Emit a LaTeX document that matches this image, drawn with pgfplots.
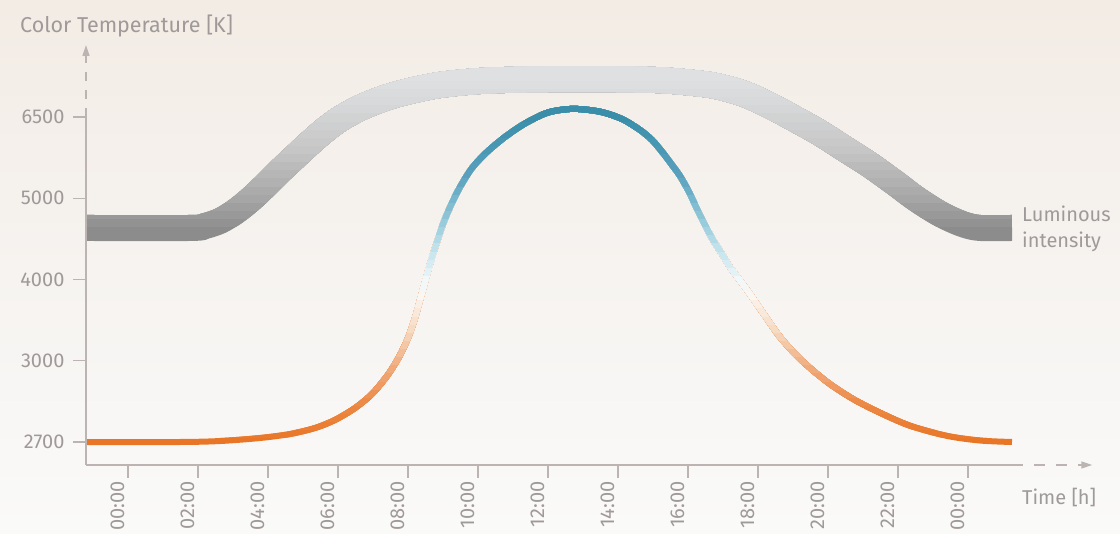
\documentclass[border=0pt]{standalone}
\usepackage{fontspec}
\setmainfont{Fira Sans}
\usepackage{pgfplots}
\usepackage{pgfplotstable}
\pgfplotsset{compat=1.18}
\usetikzlibrary{arrows.meta}

\definecolor{txtgray}{RGB}{160,153,153}
\definecolor{axgray}{RGB}{188,180,179}
\definecolor{bgtop}{RGB}{243,236,229}
\definecolor{bgmid}{RGB}{246,243,240}
\definecolor{bgbot}{RGB}{250,250,249}
\definecolor{lumdark}{RGB}{140,140,140}
\definecolor{ctorange}{RGB}{232,118,38}

% y is a level: 0=2700K, 1=3000K, 2=4000K, 3=5000K, 4=6500K
% colormap position (cm) = 10*level, so "color of colormap" value = 100*level
\pgfplotsset{
  colormap={ctemp}{
    rgb255(0cm)=(232,118,38) rgb255(5cm)=(236,138,72) rgb255(10cm)=(241,178,135)
    rgb255(14cm)=(247,220,196) rgb255(18cm)=(250,246,242) rgb255(20cm)=(240,248,250)
    rgb255(24cm)=(190,225,235) rgb255(28cm)=(140,196,214) rgb255(33cm)=(88,160,189)
    rgb255(40cm)=(58,142,170) rgb255(100cm)=(58,142,170)},
  colormap={lumgray}{
    rgb255(0cm)=(140,140,140) rgb255(26cm)=(140,140,140) rgb255(30cm)=(166,166,166)
    rgb255(36cm)=(198,198,198) rgb255(42cm)=(215,217,218) rgb255(45cm)=(222,224,225)
    rgb255(100cm)=(222,224,225)},
}

% luminous intensity band (hour, level)
\pgfplotstableread{
h v
-1.2 2.634
1.771 2.634
2.2 2.658
2.629 2.72
3.057 2.831
3.486 2.978
3.914 3.151
4.343 3.335
4.771 3.508
5.2 3.68
5.629 3.84
6.057 3.975
6.629 4.111
7.343 4.234
8.057 4.32
8.914 4.394
10.057 4.443
11.486 4.462
13.486 4.466
15.2 4.453
16.343 4.41
16.914 4.37
17.629 4.28
18.343 4.14
19.057 3.975
19.771 3.803
20.486 3.606
21.2 3.409
21.914 3.188
22.486 3.003
23.057 2.843
23.486 2.745
23.914 2.671
24.343 2.634
25.257 2.634
}\lumdata

% colour temperature (hour, level)
\pgfplotstableread{
h v
-1.2 0
1.486 0
2.629 0.012
3.771 0.049
4.629 0.098
5.343 0.172
5.914 0.271
6.486 0.418
6.971 0.591
7.4 0.812
7.743 1.046
8.0 1.28
8.2 1.526
8.343 1.748
8.486 1.969
8.629 2.191
8.8 2.425
9.0 2.683
9.229 2.917
9.486 3.138
9.829 3.372
10.257 3.569
10.771 3.754
11.343 3.92
12.0 4.055
12.714 4.10
13.486 4.065
14.114 3.975
14.629 3.84
14.971 3.717
15.286 3.557
15.543 3.409
15.771 3.274
16.029 3.077
16.257 2.868
16.486 2.671
16.714 2.486
16.971 2.314
17.2 2.154
17.686 1.871
18.143 1.588
18.629 1.292
19.2 1.022
19.971 0.74
20.714 0.53
21.486 0.36
22.343 0.20
23.4 0.075
24.343 0.018
25.257 0
}\ctdata

\begin{document}
\begin{tikzpicture}[x=1pt,y=1pt]
\useasboundingbox (0,0) rectangle (1120,534);
\shade[top color=bgtop, bottom color=bgbot, middle color=bgmid] (0,0) rectangle (1120,534);
\begin{axis}[
  at={(86pt,69pt)}, anchor=south west,
  scale only axis, width=926pt, height=420pt,
  xmin=-1.2, xmax=25.257, ymin=-0.283, ymax=4.886,
  axis lines=left, axis line style={draw=none},
  tick align=outside, major tick length=13pt,
  tick style={axgray, line width=1.3pt},
  xtick={0,2,...,24},
  xticklabels={00:00,02:00,04:00,06:00,08:00,10:00,12:00,14:00,16:00,18:00,20:00,22:00,00:00},
  ytick={0,1,2,3,4},
  yticklabels={2700,3000,4000,5000,6500},
  tick label style={font=\fontsize{20}{23}\selectfont, text=txtgray},
  xticklabel style={rotate=90, anchor=south east},
  yticklabel style={xshift=-5pt},
  clip mode=individual,
]
% band: base coat, then level strips painted on top
\addplot[smooth, line width=26pt, draw=lumdark] table {\lumdata};
\pgfplotsinvokeforeach{27,...,46}{
  \begin{scope}
    \clip (axis cs:-3,{#1*0.1-0.05}) rectangle (axis cs:30,6);
    \addplot[smooth, line width=26pt, color of colormap={#10 of lumgray}] table {\lumdata};
  \end{scope}
}
% colour temperature curve
\addplot[smooth, line width=6pt, draw=ctorange] table {\ctdata};
\pgfplotsinvokeforeach{1,...,42}{
  \begin{scope}
    \clip (axis cs:-3,{#1*0.1-0.05}) rectangle (axis cs:30,6);
    \addplot[smooth, line width=6pt, color of colormap={#10 of ctemp}] table {\ctdata};
  \end{scope}
}
% axis lines
\draw[axgray, line width=1.6pt] (axis cs:-1.2,-0.283) -- (axis cs:25.257,-0.283);
\draw[axgray, line width=1.6pt, dash pattern=on 11pt off 11pt, -{Triangle[width=7pt,length=11pt]}]
  (axis cs:25.257,-0.283) -- (axis cs:27.55,-0.283);
\draw[axgray, line width=1.6pt] (axis cs:-1.2,-0.283) -- (axis cs:-1.2,4.0);
\draw[axgray, line width=1.6pt, dash pattern=on 9pt off 9pt, -{Triangle[width=7pt,length=11pt]}]
  (axis cs:-1.2,4.0) -- (axis cs:-1.2,4.886);
\end{axis}
\node[anchor=base west, font=\fontsize{21.5}{25}\selectfont, text=txtgray, inner sep=0pt]
  at (20,501) {Color Temperature [K]};
\node[anchor=base west, font=\fontsize{20}{24}\selectfont, text=txtgray, inner sep=0pt]
  at (1022,312) {Luminous};
\node[anchor=base west, font=\fontsize{20}{24}\selectfont, text=txtgray, inner sep=0pt]
  at (1022,286) {intensity};
\node[anchor=base west, font=\fontsize{20}{24}\selectfont, text=txtgray, inner sep=0pt]
  at (1022,29) {Time [h]};
\end{tikzpicture}
\end{document}
